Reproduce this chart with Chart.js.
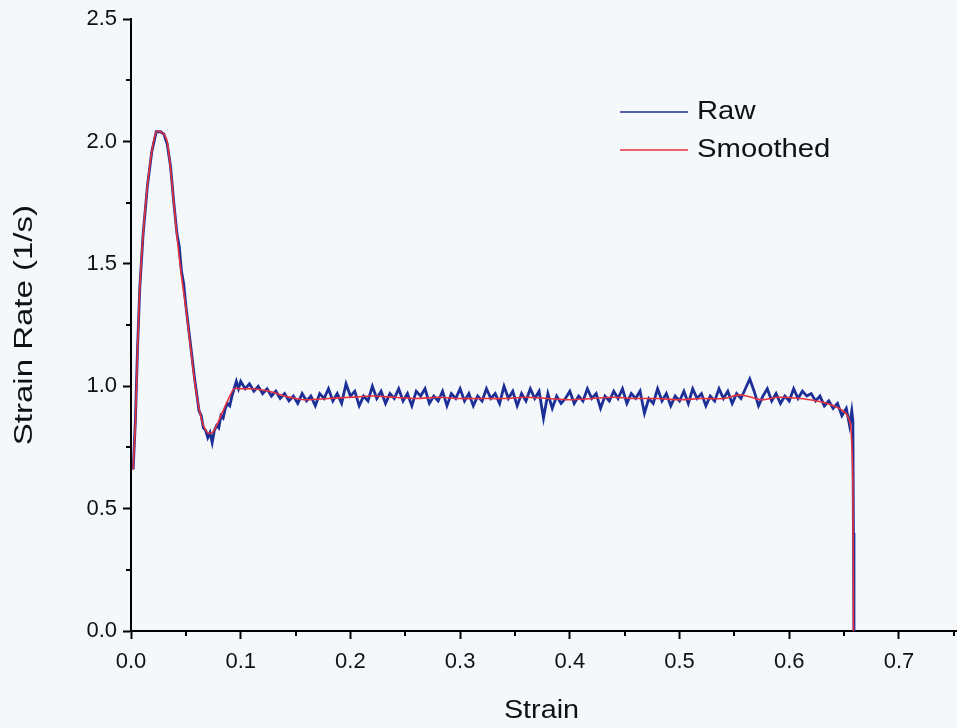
<!DOCTYPE html>
<html>
<head>
<meta charset="utf-8">
<script src="https://cdn.jsdelivr.net/npm/chart.js@4/dist/chart.umd.min.js"></script>
<style>
  html, body { margin: 0; padding: 0; background: #f4f8fb; }
  #wrap { width: 957px; height: 728px; }
</style>
</head>
<body>
<div id="wrap"><canvas id="chart" width="957" height="728"></canvas></div>
<script>
// values
const smoothStrain = [0.002, 0.004, 0.006, 0.008, 0.011, 0.015, 0.019, 0.023, 0.027, 0.030, 0.033, 0.036, 0.039, 0.042, 0.046, 0.050, 0.054, 0.058, 0.062, 0.066, 0.070, 0.074, 0.078, 0.083, 0.088, 0.094, 0.100,
  0.110, 0.120, 0.130, 0.140, 0.150, 0.160, 0.180, 0.200, 0.220, 0.240, 0.260, 0.280, 0.300, 0.320, 0.340, 0.360, 0.380, 0.400, 0.420, 0.440, 0.460, 0.480, 0.500, 0.520, 0.540, 0.555, 0.565, 0.575, 0.590, 0.610, 0.625, 0.635, 0.643, 0.649, 0.653, 0.656, 0.658, 0.6585, 0.659];
const smoothRate = [0.66, 0.85, 1.15, 1.40, 1.62, 1.82, 1.96, 2.04, 2.04, 2.03, 2.00, 1.89, 1.75, 1.61, 1.45, 1.32, 1.17, 1.02, 0.91, 0.84, 0.81, 0.81, 0.84, 0.89, 0.94, 0.99, 0.99,
  0.99, 0.985, 0.975, 0.96, 0.95, 0.945, 0.95, 0.955, 0.96, 0.955, 0.95, 0.955, 0.95, 0.95, 0.95, 0.955, 0.95, 0.945, 0.95, 0.955, 0.95, 0.95, 0.945, 0.95, 0.95, 0.965, 0.955, 0.945, 0.955, 0.95, 0.94, 0.93, 0.915, 0.90, 0.88, 0.84, 0.60, 0.0];

const rawStrain = [0.002, 0.004, 0.006, 0.008, 0.011, 0.015, 0.019, 0.023, 0.027, 0.030, 0.033, 0.036, 0.039, 0.042, 0.044, 0.046, 0.048, 0.050, 0.054, 0.058, 0.062, 0.064, 0.066, 0.068, 0.070, 0.072, 0.074, 0.076, 0.078, 0.080, 0.082, 0.084, 0.086, 0.088, 0.090, 0.092, 0.094, 0.096, 0.098,
  0.100, 0.104, 0.108, 0.112, 0.116, 0.120, 0.124, 0.128, 0.132, 0.136, 0.140, 0.144, 0.148, 0.152, 0.156, 0.160, 0.164, 0.168, 0.172, 0.176, 0.180, 0.184, 0.188, 0.192, 0.196,
  0.200, 0.204, 0.208, 0.212, 0.216, 0.220, 0.224, 0.228, 0.232, 0.236, 0.240, 0.244, 0.248, 0.252, 0.256, 0.260, 0.264, 0.268, 0.272, 0.276, 0.280, 0.284, 0.288, 0.292, 0.296,
  0.300, 0.304, 0.308, 0.312, 0.316, 0.320, 0.324, 0.328, 0.332, 0.336, 0.340, 0.344, 0.348, 0.352, 0.356, 0.360, 0.364, 0.368, 0.372, 0.376, 0.380, 0.384, 0.388, 0.392, 0.396,
  0.400, 0.404, 0.408, 0.412, 0.416, 0.420, 0.424, 0.428, 0.432, 0.436, 0.440, 0.444, 0.448, 0.452, 0.456, 0.460, 0.464, 0.468, 0.472, 0.476, 0.480, 0.484, 0.488, 0.492, 0.496,
  0.500, 0.504, 0.508, 0.512, 0.516, 0.520, 0.524, 0.528, 0.532, 0.536, 0.540, 0.544, 0.548, 0.552, 0.556, 0.560, 0.564, 0.568, 0.572, 0.576, 0.580, 0.584, 0.588, 0.592, 0.596,
  0.600, 0.604, 0.608, 0.612, 0.616, 0.620, 0.624, 0.628, 0.632, 0.636, 0.640, 0.644, 0.648, 0.652, 0.655, 0.657, 0.658, 0.6585, 0.659];
const rawRate = [0.66, 0.86, 1.16, 1.40, 1.62, 1.82, 1.96, 2.04, 2.04, 2.03, 1.99, 1.90, 1.75, 1.62, 1.57, 1.47, 1.42, 1.33, 1.18, 1.03, 0.90, 0.88, 0.83, 0.82, 0.79, 0.81, 0.77, 0.82, 0.84, 0.83, 0.88, 0.87, 0.91, 0.93, 0.92, 0.96, 0.99, 1.02, 0.99,
  1.02, 0.99, 1.01, 0.98, 1.00, 0.97, 0.99, 0.96, 0.98, 0.95, 0.97, 0.94, 0.96, 0.93, 0.97, 0.94, 0.96, 0.92, 0.97, 0.95, 0.99, 0.94, 0.97, 0.93, 1.01,
  0.96, 0.98, 0.92, 0.96, 0.94, 1.00, 0.95, 0.98, 0.93, 0.97, 0.95, 0.99, 0.94, 0.97, 0.92, 0.98, 0.96, 0.99, 0.93, 0.96, 0.94, 0.98, 0.92, 0.97, 0.95,
  0.99, 0.94, 0.97, 0.92, 0.96, 0.94, 0.99, 0.95, 0.97, 0.93, 1.00, 0.95, 0.98, 0.92, 0.97, 0.94, 0.99, 0.95, 0.98, 0.87, 0.97, 0.91, 0.96, 0.93, 0.95,
  0.98, 0.93, 0.96, 0.94, 0.99, 0.95, 0.97, 0.91, 0.96, 0.94, 0.98, 0.95, 0.99, 0.93, 0.97, 0.95, 0.98, 0.89, 0.95, 0.93, 0.99, 0.94, 0.97, 0.92, 0.96,
  0.94, 0.98, 0.93, 0.99, 0.95, 0.97, 0.92, 0.96, 0.94, 0.99, 0.95, 0.98, 0.93, 0.97, 0.95, 0.99, 1.03, 0.98, 0.92, 0.96, 0.99, 0.94, 0.97, 0.93, 0.96,
  0.94, 0.99, 0.95, 0.98, 0.96, 0.97, 0.94, 0.96, 0.92, 0.94, 0.91, 0.93, 0.88, 0.91, 0.84, 0.90, 0.86, 0.40, 0.0];

const xTicks = [0, 0.1, 0.2, 0.3, 0.4, 0.5, 0.6, 0.7];
const xMinorTicks = [0.05, 0.15, 0.25, 0.35, 0.45, 0.55, 0.65, 0.75];
const yTicks = [0, 0.5, 1.0, 1.5, 2.0, 2.5];
const yMinorTicks = [0.25, 0.75, 1.25, 1.75, 2.25];
const xTitle = 'Strain';
const yTitle = 'Strain Rate (1/s)';

const fontFamily = '"Liberation Sans", Arial, sans-serif';

const toPoints = (xs, ys) => xs.map((x, i) => ({ x: x, y: ys[i] }));

// text in the scan is wider than Arial, so stretch it a little
function wideText(ctx, text, x, y, stretch, align) {
  ctx.save();
  ctx.translate(x, y);
  ctx.scale(stretch, 1);
  ctx.textAlign = align;
  ctx.fillText(text, 0, 0);
  ctx.restore();
}

// minor ticks, axis titles and the legend, placed from the chart's own scales
const extras = {
  id: 'extras',
  afterDraw(chart) {
    const ctx = chart.ctx;
    const xs = chart.scales.x, ys = chart.scales.y;
    const area = chart.chartArea;
    ctx.save();
    ctx.strokeStyle = '#000';
    ctx.lineWidth = 2;
    ctx.beginPath();
    xMinorTicks.forEach(v => {
      const px = Math.round(xs.getPixelForValue(v));
      ctx.moveTo(px, area.bottom);
      ctx.lineTo(px, area.bottom + 5);
    });
    yMinorTicks.forEach(v => {
      const py = Math.round(ys.getPixelForValue(v));
      ctx.moveTo(area.left, py);
      ctx.lineTo(area.left - 5, py);
    });
    ctx.stroke();

    ctx.fillStyle = '#111';
    ctx.textBaseline = 'middle';

    // axis titles
    ctx.font = '25px ' + fontFamily;
    wideText(ctx, xTitle, (area.left + area.right) / 2 - 2, 711, 1.15, 'center');
    ctx.save();
    ctx.translate(25, (area.top + area.bottom) / 2);
    ctx.rotate(-Math.PI / 2);
    wideText(ctx, yTitle, 0, 0, 1.32, 'center');
    ctx.restore();

    // legend
    ctx.font = '25px ' + fontFamily;
    chart.data.datasets.forEach((ds, i) => {
      const y = 112 + i * 38;
      ctx.strokeStyle = ds.borderColor;
      ctx.lineWidth = 1.5;
      ctx.beginPath();
      ctx.moveTo(620, y);
      ctx.lineTo(688, y);
      ctx.stroke();
      wideText(ctx, ds.label, 697, y, 1.17, 'left');
    });
    ctx.restore();
  }
};

new Chart(document.getElementById('chart'), {
  type: 'line',
  data: {
    datasets: [
      {
        label: 'Raw',
        data: toPoints(rawStrain, rawRate),
        borderColor: '#1b2f96',
        borderWidth: 2.8,
        pointRadius: 0,
        tension: 0,
        order: 2,
      },
      {
        label: 'Smoothed',
        data: toPoints(smoothStrain, smoothRate),
        borderColor: '#e8323c',
        borderWidth: 1.6,
        pointRadius: 0,
        tension: 0.3,
        order: 1,
      },
    ],
  },
  plugins: [extras],
  options: {
    responsive: false,
    animation: false,
    layout: { padding: { top: 19, right: 1, left: 0, bottom: 0 } },
    plugins: {
      legend: { display: false },
      tooltip: { enabled: false },
    },
    scales: {
      x: {
        type: 'linear',
        min: 0,
        max: 0.752,
        afterFit: (scale) => { scale.height = 97; },
        afterBuildTicks: (scale) => { scale.ticks = xTicks.map(v => ({ value: v })); },
        border: { display: true, color: '#000', width: 2 },
        grid: { drawOnChartArea: false, drawTicks: true, tickLength: 8, tickWidth: 2, tickColor: '#000' },
        ticks: {
          color: '#111',
          padding: 10,
          maxRotation: 0,
          font: { family: fontFamily, size: 22 },
          callback: (v) => v.toFixed(1),
        },
        title: { display: false },
      },
      y: {
        type: 'linear',
        min: 0,
        max: 2.5,
        afterFit: (scale) => { scale.width = 131; },
        afterBuildTicks: (scale) => { scale.ticks = yTicks.map(v => ({ value: v })); },
        border: { display: true, color: '#000', width: 2 },
        grid: { drawOnChartArea: false, drawTicks: true, tickLength: 8, tickWidth: 2, tickColor: '#000' },
        ticks: {
          color: '#111',
          padding: 6,
          font: { family: fontFamily, size: 22 },
          callback: (v) => v.toFixed(1),
        },
        title: { display: false },
      },
    },
  },
});
</script>
</body>
</html>
